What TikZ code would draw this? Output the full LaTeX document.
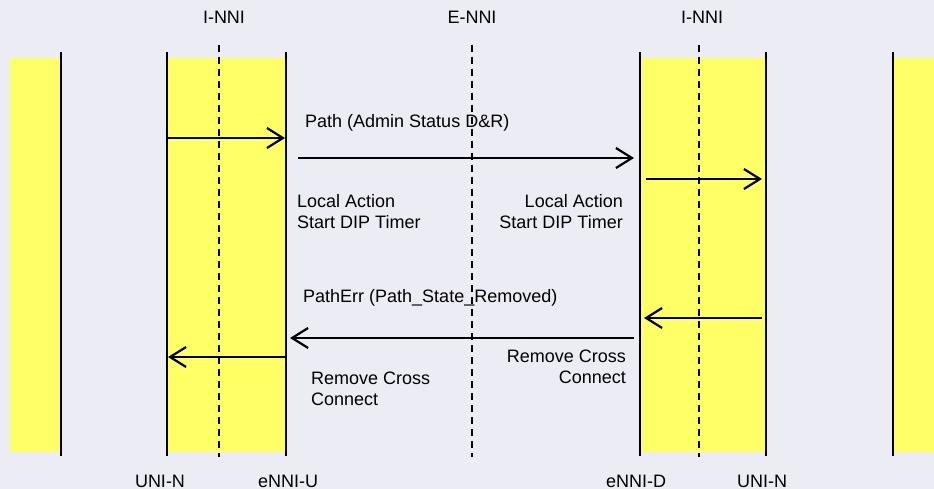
\documentclass[tikz,border=0pt]{standalone}
\usepackage{fontspec}
\setmainfont{Liberation Sans}
\usetikzlibrary{arrows.meta}

\definecolor{bgpale}{RGB}{236,236,245}
\definecolor{bandyellow}{RGB}{255,255,102}

\begin{document}
\begin{tikzpicture}[
  x=1pt,
  y=-1pt,
  >={Straight Barb[length=16pt, width=20pt]},
  band/.style={fill=bandyellow, draw=none},
  life/.style={line width=2.2pt},
  iface/.style={line width=1.8pt, dash pattern=on 7pt off 5pt},
  msg/.style={->, line width=2.2pt},
  lbl/.style={font=\fontsize{18}{21}\selectfont, inner sep=0pt},
  note/.style={lbl, align=left}
]
  % background and page size
  \fill[bgpale] (0,0) rectangle (934,489);
  \useasboundingbox (0,0) rectangle (934,489);

  % yellow domains
  \fill[band] (10,57) rectangle (61,452);
  \fill[band] (167,57) rectangle (286,452);
  \fill[band] (640,57) rectangle (766,452);
  \fill[band] (893,57) rectangle (934,452);

  % interface labels
  \node[lbl, anchor=base] (inniL) at (224,24) {I-NNI};
  \node[lbl, anchor=base] (enni) at (472,24) {E-NNI};
  \node[lbl, anchor=base] (inniR) at (702,24) {I-NNI};

  % node labels
  \node[lbl, anchor=base] (uniL) at (160,487) {UNI-N};
  \node[lbl, anchor=base] (ennU) at (288,487) {eNNI-U};
  \node[lbl, anchor=base] (ennD) at (636,487) {eNNI-D};
  \node[lbl, anchor=base] (uniR) at (762,487) {UNI-N};

  % interface boundaries
  \draw[iface] (219,45) coordinate (inniLtop) -- (219,457) coordinate (inniLbot);
  \draw[iface] (472,45) coordinate (ennitop) -- (472,457) coordinate (ennibot);
  \draw[iface] (699,45) coordinate (inniRtop) -- (699,457) coordinate (inniRbot);

  % lifelines
  \coordinate (farLtop) at (61,52);   \coordinate (farLbot) at (61,456);
  \coordinate (uniLtop) at (167,52);  \coordinate (uniLbot) at (167,456);
  \coordinate (ennUtop) at (286,52);  \coordinate (ennUbot) at (286,456);
  \coordinate (ennDtop) at (640,52);  \coordinate (ennDbot) at (640,456);
  \coordinate (uniRtop) at (766,52);  \coordinate (uniRbot) at (766,456);
  \coordinate (farRtop) at (893,52);  \coordinate (farRbot) at (893,456);
  \draw[life] (farLtop) -- (farLbot);
  \draw[life] (uniLtop) -- (uniLbot);
  \draw[life] (ennUtop) -- (ennUbot);
  \draw[life] (ennDtop) -- (ennDbot);
  \draw[life] (uniRtop) -- (uniRbot);
  \draw[life] (farRtop) -- (farRbot);

  % message end points
  \coordinate (m1a) at (168,138);  \coordinate (m1b) at (285,138);
  \coordinate (m2a) at (298,158);  \coordinate (m2b) at (634,158);
  \coordinate (m3a) at (646,179);  \coordinate (m3b) at (762,179);
  \coordinate (m4a) at (762,318);  \coordinate (m4b) at (644,318);
  \coordinate (m5a) at (634,338);  \coordinate (m5b) at (290,338);
  \coordinate (m6a) at (285,357);  \coordinate (m6b) at (168,357);

  % Path
  \draw[msg] (m1a) -- (m1b);
  \draw[msg] (m2a) -- (m2b);
  \draw[msg] (m3a) -- (m3b);
  \node[lbl, anchor=base west] (pathmsg) at (305,128) {Path (Admin Status D\&R)};

  % PathErr
  \draw[msg] (m4a) -- (m4b);
  \draw[msg] (m5a) -- (m5b);
  \draw[msg] (m6a) -- (m6b);
  \node[lbl, anchor=base west] (errmsg) at (303,302) {PathErr (Path\_State\_Removed)};

  % local actions
  \node[note, anchor=north west] (actU) at (297,194) {Local Action\\Start DIP Timer};
  \node[note, align=right, anchor=north east] (actD) at (623,194) {Local Action\\Start DIP Timer};
  \node[note, align=right, anchor=north east] (xcD) at (626,350) {Remove Cross\\Connect};
  \node[note, anchor=north west] (xcU) at (311,372) {Remove Cross\\Connect};
\end{tikzpicture}
\end{document}
